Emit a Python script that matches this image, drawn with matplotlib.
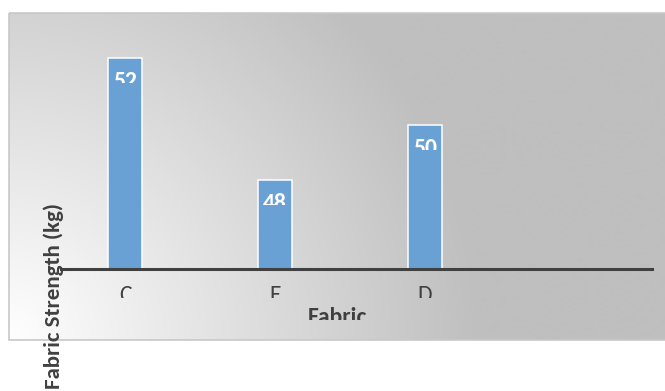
import numpy as np
import matplotlib.pyplot as plt
from matplotlib.patches import Rectangle
from matplotlib.transforms import Bbox

# data
fabrics = ['C', 'E', 'D']
strength = [52, 48, 49.8]
y_min, y_max = 45.1, 53.51

plt.rcParams['font.family'] = ['Carlito', 'DejaVu Sans']

W, H = 665, 391
fig = plt.figure(figsize=(W / 100, H / 100), dpi=100)

# chart panel: grey with a white glow from the bottom-left corner
bg = fig.add_axes([0, 0, 1, 1])
bg.set_xlim(0, W)
bg.set_ylim(H, 0)
bg.axis('off')
yy, xx = np.mgrid[0:H, 0:W]
d = np.hypot(xx - 8, yy - 340)
t = np.clip(1 - d / 470, 0, 1)
grey = 0xbf / 255 + (1 - 0xbf / 255) * t
img = bg.imshow(np.dstack([grey] * 3), extent=[0, W, H, 0], aspect='auto',
                interpolation='bilinear')
panel = Rectangle((8.5, 12.5), 700, 327.5, facecolor='none',
                  edgecolor='#c8c8c8', lw=1.2)
bg.add_patch(panel)
img.set_clip_path(panel)

# plot area
ax = fig.add_axes([61 / W, 1 - 268.5 / H, (652 - 61) / W, (268.5 - 12) / H])
ax.patch.set_alpha(0)
x = np.arange(len(fabrics))
bars = ax.bar(x, strength, width=0.227, color='#69a1d4', edgecolor='white',
              linewidth=1.1, zorder=2)
ax.set_xlim(-0.427, 3.513)
ax.set_ylim(y_min, y_max)

for s in ['top', 'right', 'left']:
    ax.spines[s].set_visible(False)
ax.spines['bottom'].set_linewidth(2.2)
ax.spines['bottom'].set_color('#404040')
ax.spines['bottom'].set_zorder(3)
ax.set_yticks([])
ax.set_xticks(x)
ax.set_xticklabels(fabrics)
ax.tick_params(axis='x', length=0, pad=11.9, labelsize=17, labelcolor='#404040')
for lab in ax.get_xticklabels():
    lab.set_clip_on(True)
    lab.set_clip_box(Bbox([[0, H - 297.5], [W, H]]))

# value labels, cut off like in the original
for rect, v in zip(bars, strength):
    cx = rect.get_x() + rect.get_width() / 2
    ytop = ax.transData.transform((cx, v))[1]
    txt = ax.annotate(f'{v:.0f}', (cx, v), xytext=(0, -13),
                      textcoords='offset pixels', ha='center', va='top',
                      color='white', fontsize=17, fontweight='bold', zorder=4)
    txt.set_clip_on(True)
    txt.set_clip_box(Bbox([[0, ytop - 25], [W, H]]))

ax.set_xlabel('Fabric', fontsize=17, fontweight='bold', color='#404040')
ax.xaxis.set_label_coords(0.467, -0.150)
ax.xaxis.label.set_clip_on(True)
ax.xaxis.label.set_clip_box(Bbox([[0, H - 320], [W, H]]))

ax.set_ylabel('Fabric Strength (kg)', fontsize=16.5, fontweight='bold',
              color='#404040')
ax.yaxis.set_label_coords(0.005, -0.108)

fig.savefig('out.png', dpi=100)
